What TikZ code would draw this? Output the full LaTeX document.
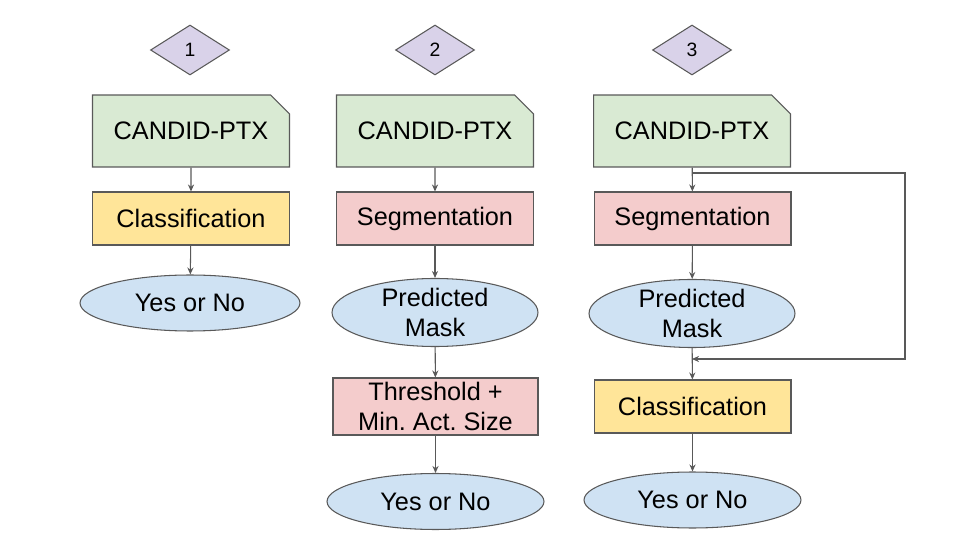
\documentclass[tikz,border=0pt]{standalone}
\usepackage{fontspec}
\setmainfont{Liberation Sans}
\usetikzlibrary{shapes.geometric, shapes.misc, arrows.meta}
\frenchspacing

\definecolor{linegray}{HTML}{595959}
\definecolor{docgreen}{HTML}{D9EAD3}
\definecolor{clsyellow}{HTML}{FFE599}
\definecolor{segpink}{HTML}{F4CCCC}
\definecolor{ovalblue}{HTML}{CFE2F3}
\definecolor{numpurple}{HTML}{D9D2E9}

\tikzset{
  base/.style={draw=linegray, line width=0.6pt, inner sep=0pt, align=center,
    font=\fontsize{14.4}{16.8}\selectfont},
  doc/.style={base, fill=docgreen, chamfered rectangle,
    chamfered rectangle corners=north east, chamfered rectangle xsep=0.2cm,
    chamfered rectangle ysep=0.2cm, minimum width=3.94cm, minimum height=1.44cm},
  procbox/.style={base, rectangle, minimum width=3.94cm, minimum height=1.06cm},
  outoval/.style={base, ellipse, fill=ovalblue, minimum height=1.12cm},
  numdiam/.style={draw=linegray, line width=0.6pt, diamond, fill=numpurple,
    inner sep=0pt, minimum width=1.58cm, minimum height=1.0cm,
    font=\fontsize{11}{13}\selectfont},
  arr/.style={draw=linegray, line width=0.6pt, -{Stealth[length=4pt, width=3.5pt]}}
}

\begin{document}
\begin{tikzpicture}[x=0.02cm, y=-0.02cm]
\useasboundingbox (0,0) rectangle (960,540);

% numbers on top
\foreach \n/\x in {1/190, 2/435, 3/692} {
    \node[numdiam] (num\n) at (\x,50) {\n};
}

% pipeline 1
\node[doc] (doc1) at (191,131) {CANDID-PTX};
\node[procbox, fill=clsyellow] (cls1) at (191,218.5) {Classification};
\node[outoval, minimum width=4.4cm] (out1) at (190,303) {Yes or No};

\draw[arr] (doc1) -- (cls1);
\draw[arr] (cls1) -- (out1);

% pipeline 2
\node[doc] (doc2) at (435,131) {CANDID-PTX};
\node[procbox, fill=segpink] (seg2) at (435,218.5) {Segmentation};
\node[outoval, minimum width=4.12cm] (mask2) at (435,312.5) {Predicted\\Mask};
\node[procbox, fill=segpink, minimum width=4.1cm, minimum height=1.14cm] (thr2) at (435.5,406.5) {Threshold +\\Min. Act. Size};
\node[outoval, minimum width=4.34cm] (out2) at (435.5,501.5) {Yes or No};

\draw[arr] (doc2) -- (seg2);
\draw[arr] (seg2) -- (mask2);
\draw[arr] (mask2) -- (thr2);
\draw[arr] (thr2) -- (out2);

% pipeline 3
\node[doc] (doc3) at (692,131) {CANDID-PTX};
\node[procbox, fill=segpink] (seg3) at (692.5,218.5) {Segmentation};
\node[outoval, minimum width=4.12cm] (mask3) at (692,313.5) {Predicted\\Mask};
\node[procbox, fill=clsyellow] (cls3) at (692.5,406.5) {Classification};
\node[outoval, minimum width=4.34cm] (out3) at (692.5,500) {Yes or No};

\coordinate (split) at (692,173);
\coordinate (turn) at (905,359);
\coordinate (join) at (692,359);

\draw[arr] (doc3) -- (seg3);
\draw[arr] (seg3) -- (mask3);
\draw[arr] (mask3) -- (cls3);
\draw[arr] (cls3) -- (out3);
% skip connection around the segmentation
\draw[arr] (split) -| (turn) -- (join);
\end{tikzpicture}
\end{document}
